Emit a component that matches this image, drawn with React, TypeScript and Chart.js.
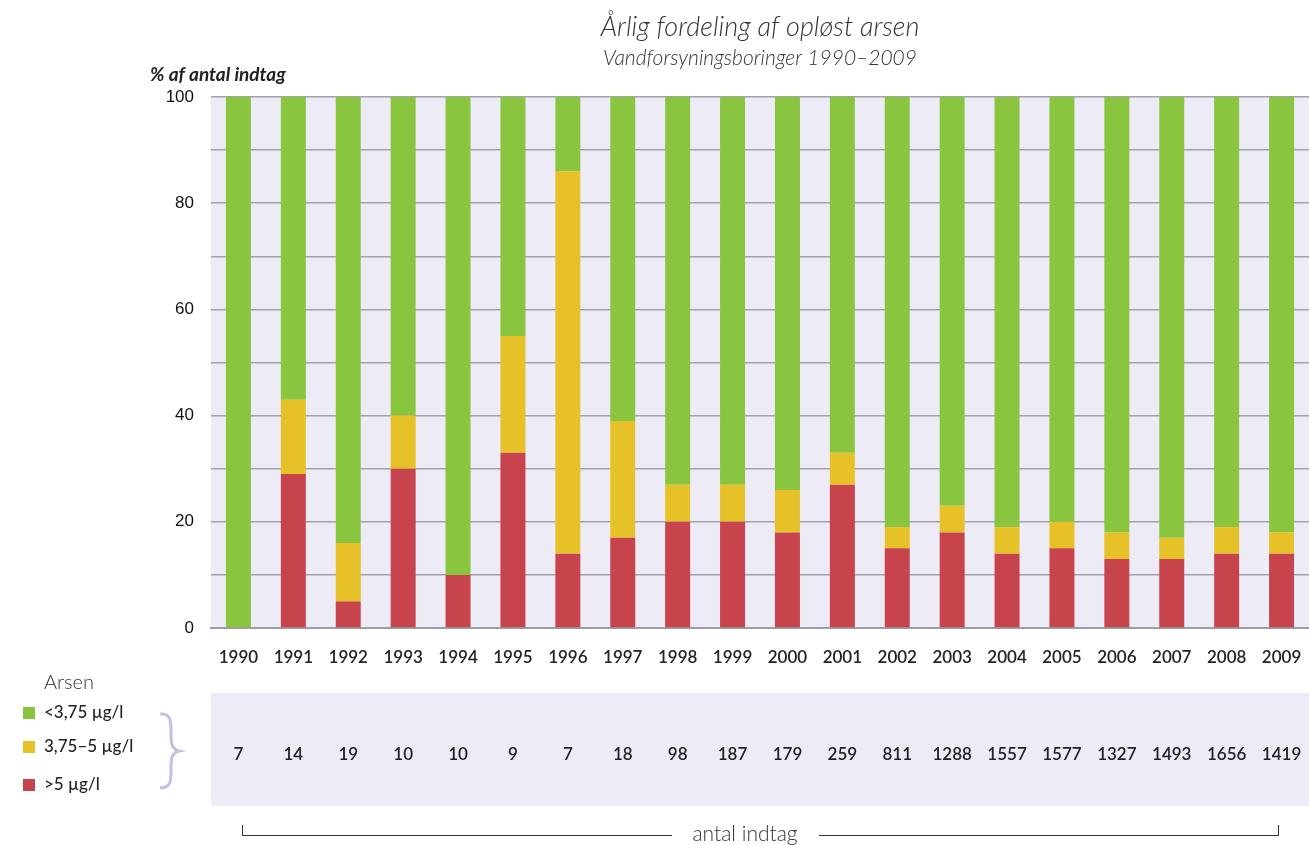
import React, { useEffect, useRef } from "react";
import { Chart, registerables } from "chart.js";

Chart.register(...registerables);

const years = ["1990","1991","1992","1993","1994","1995","1996","1997","1998","1999","2000","2001","2002","2003","2004","2005","2006","2007","2008","2009"];
const above5 = [0,29,5,30,10,33,14,17,20,20,18,27,15,18,14,15,13,13,14,14];
const mid375to5 = [0,14,11,10,0,22,72,22,7,7,8,6,4,5,5,5,5,4,5,4];
const below375 = [100,57,84,60,90,45,14,61,73,73,74,67,81,77,81,80,82,83,81,82];
const counts = [7,14,19,10,10,9,7,18,98,187,179,259,811,1288,1557,1577,1327,1493,1656,1419];
const yTicks = [0,20,40,60,80,100];
const seriesNames = ["<3,75 µg/l","3,75–5 µg/l",">5 µg/l"];

const GREEN = "#8AC540";
const YELLOW = "#E6C128";
const RED = "#C8444C";
const LAV = "#EDEBF6";
const TXT = "#222222";

export default function App() {
  const ref = useRef<HTMLCanvasElement | null>(null);
  useEffect(() => {
    const canvas = ref.current!;
    const bg = {
      id: "bg",
      beforeDraw(chart: any) {
        const { ctx, chartArea } = chart;
        ctx.save();
        ctx.fillStyle = LAV;
        ctx.fillRect(chartArea.left, chartArea.top, chartArea.right - chartArea.left, chartArea.bottom - chartArea.top);
        ctx.fillRect(chartArea.left, 693, chartArea.right - chartArea.left, 113);
        ctx.restore();
      },
    };
    const deco = {
      id: "deco",
      afterDraw(chart: any) {
        const { ctx } = chart;
        const xs = chart.scales.x;
        ctx.save();
        // Titles
        ctx.fillStyle = "#333";
        ctx.textAlign = "center";
        ctx.textBaseline = "alphabetic";
        ctx.font = "italic 300 27px Lato";
        ctx.fillText("Årlig fordeling af opløst arsen", 760, 36);
        ctx.font = "italic 300 21px Lato";
        ctx.fillText("Vandforsyningsboringer 1990–2009", 760, 65);
        // y axis title
        ctx.textAlign = "left";
        ctx.fillStyle = TXT;
        ctx.font = "italic bold 19px Lato";
        ctx.fillText("% af antal indtag", 150, 81);
        // counts row
        ctx.textAlign = "center";
        ctx.textBaseline = "middle";
        ctx.font = "600 17px Lato";
        counts.forEach((c, i) => {
          ctx.fillText(String(c), xs.getPixelForValue(i), 755);
        });
        // legend
        ctx.textAlign = "left";
        ctx.font = "300 20px Lato";
        ctx.fillStyle = "#333";
        ctx.fillText("Arsen", 44, 683);
        const colors = [GREEN, YELLOW, RED];
        const ys = [713, 747, 785];
        ctx.font = "500 17px Lato";
        seriesNames.forEach((n, i) => {
          ctx.fillStyle = colors[i];
          ctx.fillRect(23, ys[i] - 6, 12, 12);
          ctx.fillStyle = TXT;
          ctx.fillText(n, 44, ys[i]);
        });
        // brace
        ctx.strokeStyle = "#C4C0E2";
        ctx.lineWidth = 3;
        ctx.beginPath();
        ctx.moveTo(160, 714);
        ctx.bezierCurveTo(170, 713, 171, 720, 171, 730);
        ctx.lineTo(171, 738);
        ctx.bezierCurveTo(171, 746, 174, 750, 179, 751);
        ctx.bezierCurveTo(174, 752, 171, 756, 171, 764);
        ctx.lineTo(171, 772);
        ctx.bezierCurveTo(171, 782, 170, 788, 160, 788);
        ctx.stroke();
        // bottom bracket
        ctx.strokeStyle = "#333";
        ctx.lineWidth = 1;
        ctx.beginPath();
        ctx.moveTo(242.5, 825);
        ctx.lineTo(242.5, 835.5);
        ctx.lineTo(672, 835.5);
        ctx.moveTo(819, 835.5);
        ctx.lineTo(1278.5, 835.5);
        ctx.lineTo(1278.5, 825);
        ctx.stroke();
        ctx.fillStyle = "#333";
        ctx.textAlign = "center";
        ctx.textBaseline = "middle";
        ctx.font = "300 21px Lato";
        ctx.fillText("antal indtag", 745, 834);
        ctx.restore();
      },
    };
    const chart = new Chart(canvas, {
      type: "bar",
      data: {
        labels: years,
        datasets: [
          { label: seriesNames[2], data: above5, backgroundColor: RED },
          { label: seriesNames[1], data: mid375to5, backgroundColor: YELLOW },
          { label: seriesNames[0], data: below375, backgroundColor: GREEN },
        ],
      },
      options: {
        animation: false,
        responsive: false,
        devicePixelRatio: 1,
        layout: { padding: { top: 97, left: 0, right: -9, bottom: 0 } },
        datasets: { bar: { barPercentage: 0.455, categoryPercentage: 1 } },
        plugins: { legend: { display: false }, tooltip: { enabled: false }, title: { display: false } },
        scales: {
          x: {
            stacked: true,
            grid: { display: false, drawTicks: false },
            border: { display: true, color: "#9C9CA2", width: 2 },
            ticks: { color: TXT, font: { family: "Lato", size: 17, weight: "600" }, padding: 19, maxRotation: 0, autoSkip: false },
            afterFit: (s: any) => { s.height = 217; s.paddingLeft = 0; s.paddingRight = 0; },
          },
          y: {
            stacked: true,
            min: 0,
            max: 100,
            ticks: {
              stepSize: 10,
              callback: (v: any) => (yTicks.includes(Number(v)) ? String(v) : ""),
              color: "#111",
              font: { family: "Liberation Sans", size: 17 },
              padding: 17,
            },
            grid: { color: "#A2A2AA", lineWidth: 1.5, drawTicks: false },
            border: { display: false },
            afterFit: (s: any) => { s.width = 211; },
          },
        },
      },
      plugins: [bg, deco],
    });
    return () => chart.destroy();
  }, []);
  return (
    <div style={{ position: "absolute", left: 0, top: 0, width: 1309, height: 845 }}>
      <canvas ref={ref} width={1309} height={845} style={{ display: "block" }} />
    </div>
  );
}
